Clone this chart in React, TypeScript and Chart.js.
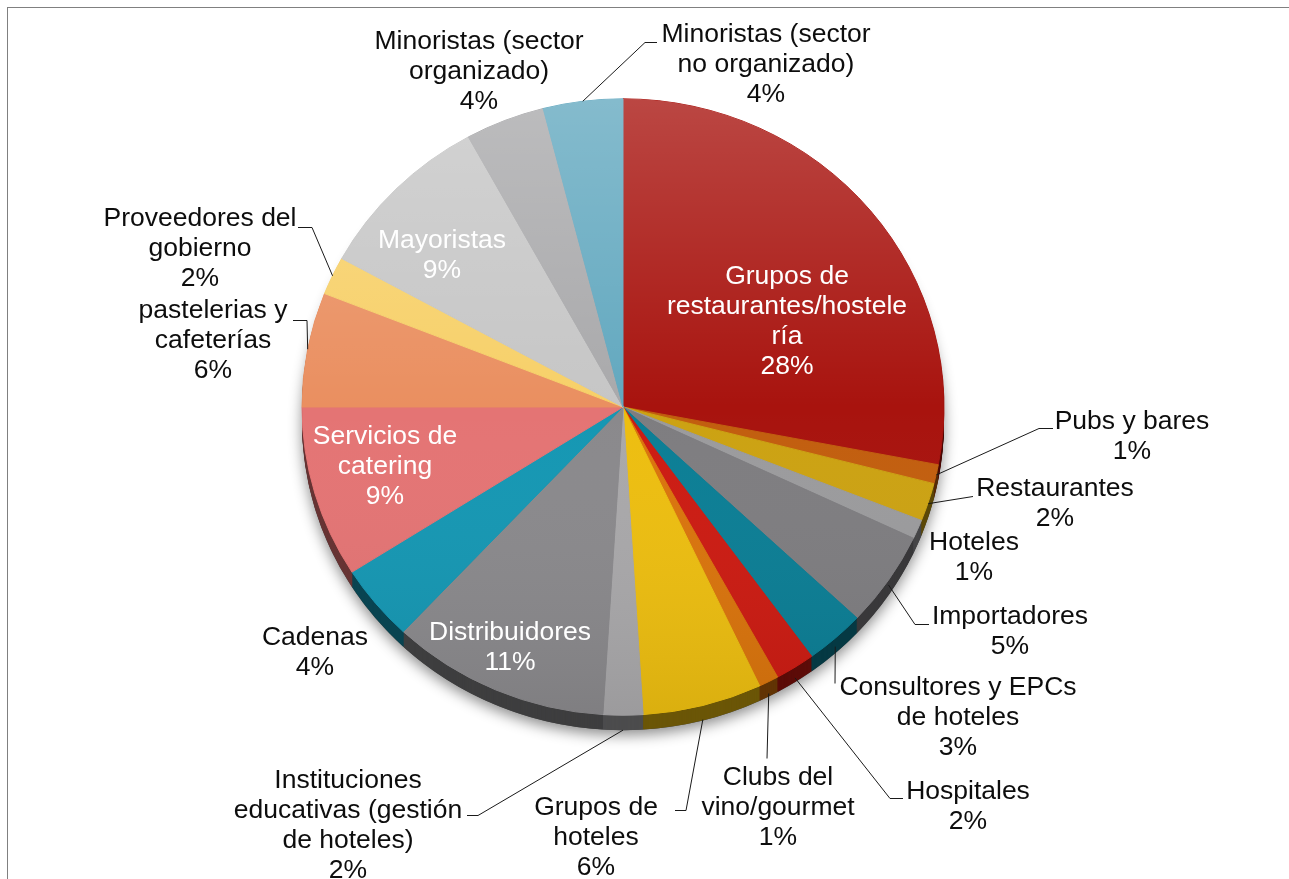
import React, { useEffect, useRef } from "react";
import { Chart, registerables } from "chart.js";

Chart.register(...registerables);

// ---- data ----
const categories = [
  "Grupos de restaurantes/hostelería",
  "Pubs y bares",
  "Restaurantes",
  "Hoteles",
  "Importadores",
  "Consultores y EPCs de hoteles",
  "Hospitales",
  "Clubs del vino/gourmet",
  "Grupos de hoteles",
  "Instituciones educativas (gestión de hoteles)",
  "Distribuidores",
  "Cadenas",
  "Servicios de catering",
  "pastelerias y cafeterías",
  "Proveedores del gobierno",
  "Mayoristas",
  "Minoristas (sector organizado)",
  "Minoristas (sector no organizado)",
];

const values = [28, 1, 2, 1, 5, 3, 2, 1, 6, 2, 11, 4, 9, 6, 2, 9, 4, 4];

const labelLines = [
  ["Grupos de", "restaurantes/hostele", "ría"],
  ["Pubs y bares"],
  ["Restaurantes"],
  ["Hoteles"],
  ["Importadores"],
  ["Consultores y EPCs", "de hoteles"],
  ["Hospitales"],
  ["Clubs del", "vino/gourmet"],
  ["Grupos de", "hoteles"],
  ["Instituciones", "educativas (gestión", "de hoteles)"],
  ["Distribuidores"],
  ["Cadenas"],
  ["Servicios de", "catering"],
  ["pastelerias y", "cafeterías"],
  ["Proveedores del", "gobierno"],
  ["Mayoristas"],
  ["Minoristas (sector", "organizado)"],
  ["Minoristas (sector", "no organizado)"],
];

// ---- styles ----
const colors = [
  "#A8130E", "#C25E0E", "#CCA212", "#9B9B9D", "#7E7D80", "#0B7E95",
  "#CC1B12", "#DA740C", "#EDBE10", "#A9A8AA", "#8A898C", "#1597B3",
  "#E47474", "#EA8F60", "#F7D068", "#C6C6C6", "#A9A9AB", "#62A8BF",
];

const insideLabel = [
  true, false, false, false, false, false, false, false, false,
  false, true, false, true, false, false, true, false, false,
];

// label block centres, relative to the pie centre (px)
const labelOffsets: [number, number][] = [
  [164, -85], [509, 30], [432, 97], [351, 151], [387, 225], [335, 311],
  [345, 400], [155, 401], [-27, 431], [-275, 419], [-113, 241], [-308, 246],
  [-238, 60], [-410, -66], [-423, -158], [-181, -151], [-144, -335], [143, -342],
];

// leader-line points after the slice edge point, relative to the pie centre
const leaderPoints: ([number, number][] | null)[] = [
  null,
  [[416, 21], [430, 21]],
  [[350, 89]],
  null,
  [[292, 217], [306, 217]],
  [[212, 276]],
  [[267, 391], [280, 391]],
  [[144, 351]],
  [[63, 403], [52, 403]],
  [[-145, 408], [-156, 408]],
  null,
  null,
  null,
  [[-316, -87], [-330, -87]],
  [[-311, -180], [-325, -180]],
  null,
  null,
  [[22, -365], [34, -365]],
];

const SY = 0.96; // vertical squash of the tilted pie
const THICK = 15; // 3D side thickness
const FONT = '26.5px "Liberation Sans", Arial, sans-serif';
const LINE_H = 30;

function darken(hex: string, f: number) {
  const n = parseInt(hex.slice(1), 16);
  const r = Math.round(((n >> 16) & 255) * f);
  const g = Math.round(((n >> 8) & 255) * f);
  const b = Math.round((n & 255) * f);
  return `rgb(${r},${g},${b})`;
}

const sideColors = colors.map((c) => darken(c, 0.45));

const pie3d = {
  id: "pie3d",
  beforeDraw(chart: any) {
    const ctx = chart.ctx;
    ctx.save();
    ctx.fillStyle = "#ffffff";
    ctx.fillRect(0, 0, chart.width, chart.height);
    ctx.strokeStyle = "#808080";
    ctx.lineWidth = 1;
    ctx.strokeRect(7.5, 7.5, chart.width + 50, chart.height + 50);
    ctx.restore();
  },
  beforeDatasetsDraw(chart: any) {
    const ctx = chart.ctx;
    const arcs = chart.getDatasetMeta(0).data;
    const a0 = arcs[0];
    const cx = a0.x, cy = a0.y, r = a0.outerRadius;
    // soft shadow
    ctx.save();
    ctx.shadowColor = "rgba(0,0,0,0.45)";
    ctx.shadowBlur = 14;
    ctx.shadowOffsetY = 5;
    ctx.fillStyle = "#444";
    ctx.beginPath();
    ctx.ellipse(cx, cy + THICK, r, r * SY, 0, 0, Math.PI * 2);
    ctx.fill();
    ctx.restore();
    // side band
    for (let t = THICK; t >= 1; t--) {
      ctx.save();
      ctx.translate(cx, cy + t);
      ctx.scale(1, SY);
      ctx.translate(-cx, -cy);
      arcs.forEach((a: any, i: number) => {
        ctx.beginPath();
        ctx.moveTo(cx, cy);
        ctx.arc(cx, cy, r, a.startAngle, a.endAngle);
        ctx.closePath();
        ctx.fillStyle = sideColors[i];
        ctx.fill();
      });
      ctx.restore();
    }
    ctx.save();
    ctx.translate(cx, cy);
    ctx.scale(1, SY);
    ctx.translate(-cx, -cy);
  },
  afterDatasetsDraw(chart: any) {
    const ctx = chart.ctx;
    ctx.restore();
    const a0 = chart.getDatasetMeta(0).data[0];
    const cx = a0.x, cy = a0.y, r = a0.outerRadius;
    const g = ctx.createLinearGradient(0, cy - r * SY, 0, cy + r * SY);
    g.addColorStop(0, "rgba(255,255,255,0.22)");
    g.addColorStop(0.5, "rgba(255,255,255,0)");
    g.addColorStop(1, "rgba(0,0,0,0.08)");
    ctx.save();
    ctx.fillStyle = g;
    ctx.beginPath();
    ctx.ellipse(cx, cy, r, r * SY, 0, 0, Math.PI * 2);
    ctx.fill();
    ctx.restore();
  },
  afterDraw(chart: any) {
    const ctx = chart.ctx;
    const arcs = chart.getDatasetMeta(0).data;
    const cx = arcs[0].x, cy = arcs[0].y;
    ctx.save();
    // leader lines
    ctx.strokeStyle = "#1a1a1a";
    ctx.lineWidth = 1;
    arcs.forEach((a: any, i: number) => {
      const pts = leaderPoints[i];
      if (!pts) return;
      const mid = (a.startAngle + a.endAngle) / 2;
      const s = Math.max(0, Math.sin(mid));
      const sx = cx + a.outerRadius * Math.cos(mid);
      const sy = cy + a.outerRadius * Math.sin(mid) * SY + THICK * s * s;
      ctx.beginPath();
      ctx.moveTo(sx, sy);
      pts.forEach(([px, py]) => ctx.lineTo(cx + px, cy + py + 0.5));
      ctx.stroke();
    });
    // labels
    ctx.font = FONT;
    ctx.textAlign = "center";
    ctx.textBaseline = "middle";
    categories.forEach((_, i) => {
      const lines = [...labelLines[i], `${values[i]}%`];
      const [dx, dy] = labelOffsets[i];
      ctx.fillStyle = insideLabel[i] ? "#ffffff" : "#0d0d0d";
      const n = lines.length;
      lines.forEach((ln, k) => {
        ctx.fillText(ln, cx + dx, cy + dy + (k - (n - 1) / 2) * LINE_H);
      });
    });
    ctx.restore();
  },
};

export default function App() {
  const ref = useRef<HTMLCanvasElement>(null);
  useEffect(() => {
    document.body.style.margin = "0";
    const chart = new Chart(ref.current as HTMLCanvasElement, {
      type: "pie",
      data: {
        labels: categories,
        datasets: [
          {
            data: values,
            backgroundColor: colors,
            borderColor: colors,
            borderWidth: 1,
            radius: 321,
          } as any,
        ],
      },
      options: {
        responsive: false,
        animation: false,
        events: [],
        layout: { padding: { left: 302, right: 345, top: 86, bottom: 151 } },
        plugins: {
          legend: { display: false },
          tooltip: { enabled: false },
        },
      },
      plugins: [pie3d],
    });
    return () => chart.destroy();
  }, []);
  return (
    <div style={{ width: 1289, height: 879, overflow: "hidden" }}>
      <canvas ref={ref} width={1289} height={879} style={{ display: "block" }} />
    </div>
  );
}
